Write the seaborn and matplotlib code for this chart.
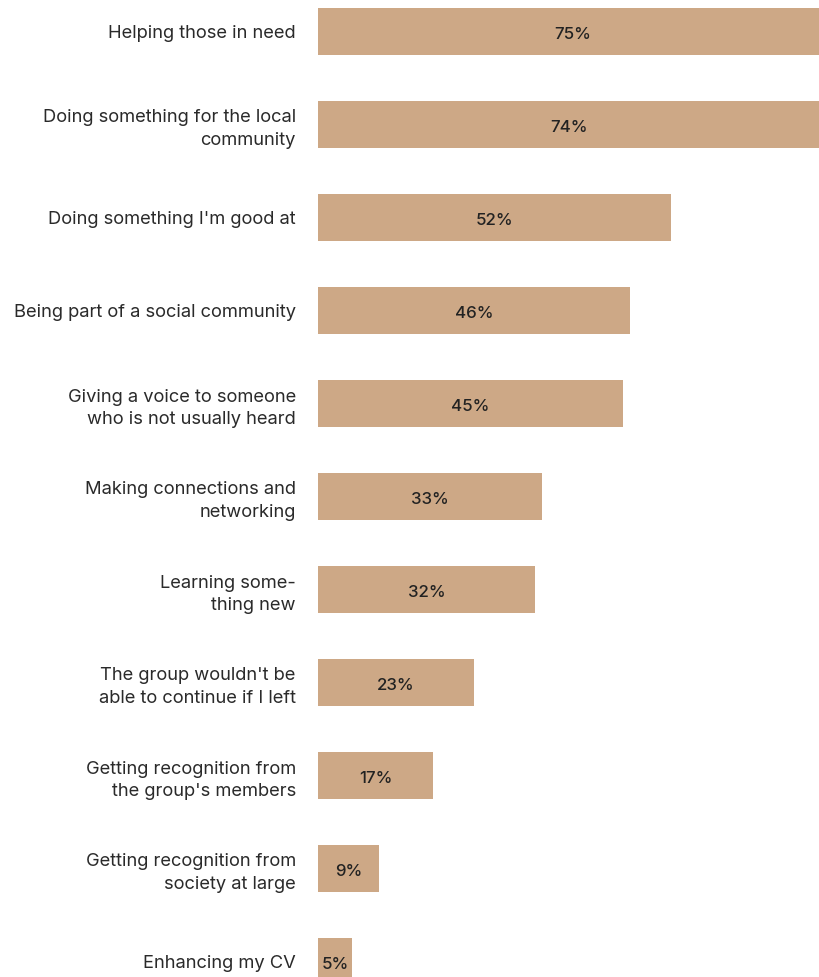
import matplotlib
matplotlib.use("Agg")
import matplotlib.pyplot as plt
import seaborn as sns
import pandas as pd

reasons = [
    "Helping those in need",
    "Doing something for the local\ncommunity",
    "Doing something I'm good at",
    "Being part of a social community",
    "Giving a voice to someone\nwho is not usually heard",
    "Making connections and\nnetworking",
    "Learning some-\nthing new",
    "The group wouldn't be\nable to continue if I left",
    "Getting recognition from\nthe group's members",
    "Getting recognition from\nsociety at large",
    "Enhancing my CV",
]
shares = [75, 74, 52, 46, 45, 33, 32, 23, 17, 9, 5]

df = pd.DataFrame({"reason": reasons, "share": shares})

sns.set_theme(style="white")
plt.rcParams["font.family"] = ["Inter", "DejaVu Sans"]

W, H = 820, 977
fig = plt.figure(figsize=(W / 100, H / 100), dpi=100)
left_px, right_px = 318, 820
ax = fig.add_axes([left_px / W, 0, (right_px - left_px) / W, 1])

bar_color = "#CDA886"
sns.barplot(data=df, x="share", y="reason", orient="h", color=bar_color,
            width=0.505, saturation=1, linewidth=0, ax=ax)

step = 93.0
ax.set_xlim(0, 74)
ax.set_ylim((H - 31.5) / step, -31.5 / step)

for i, v in enumerate(shares):
    ax.text(v / 2, i + 0.035, f"{v}%", ha="center", va="center",
            fontsize=12.2, fontweight="medium", color="#222222")

ax.set_xlabel("")
ax.set_ylabel("")
ax.set_xticks([])
ax.tick_params(axis="y", length=0, pad=16, labelsize=13.2, labelcolor="#2a2a2a")
for lab in ax.get_yticklabels():
    lab.set_horizontalalignment("right")
    lab.set_multialignment("right")
    lab.set_linespacing(1.4)
for s in ax.spines.values():
    s.set_visible(False)

fig.savefig("out.png", dpi=100, facecolor="white")
